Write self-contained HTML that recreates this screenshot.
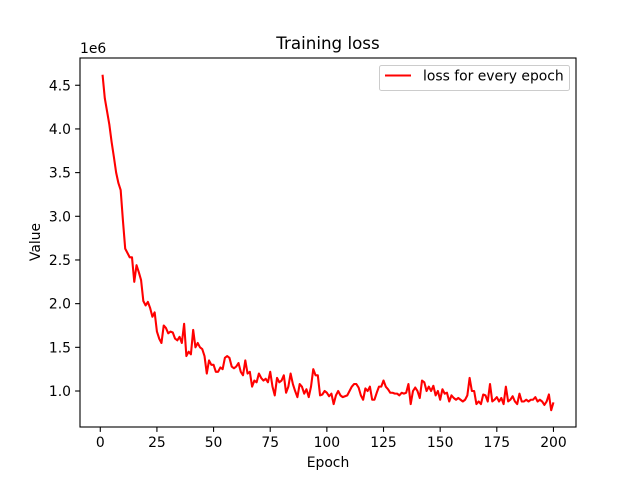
<!DOCTYPE html>
<html><head><meta charset="utf-8"><style>
body{margin:0;background:#fff;}
svg text{font-family:"DejaVu Sans","Liberation Sans",sans-serif;fill:#000;}
</style></head><body>
<svg id="chart" width="640" height="480" xmlns="http://www.w3.org/2000/svg">
<rect width="640" height="480" fill="#fff"/>
<g id="ticks"></g>
<path id="line" fill="none" stroke="#ff0000" stroke-width="2.08" stroke-linejoin="round"/>
<rect x="80" y="58" width="496" height="369" fill="none" stroke="#000" stroke-width="1.1"/>
<text x="328" y="49" font-size="16.7" text-anchor="middle">Training loss</text>
<text x="328" y="467" font-size="13.9" text-anchor="middle">Epoch</text>
<text x="40" y="242" font-size="13.9" text-anchor="middle" transform="rotate(-90 40 242)">Value</text>
<text x="80" y="53" font-size="13.9">1e6</text>
<g>
<rect x="379.5" y="65.5" width="190" height="25" rx="2" fill="#fff" stroke="#ccc" stroke-width="1"/>
<line x1="385" y1="75.5" x2="411" y2="75.5" stroke="#ff0000" stroke-width="2.08"/>
<text x="423" y="80.5" font-size="13.9">loss for every epoch</text>
</g>
</svg>
<script>
const epochs = Array.from({length:200},(_, i)=>i+1);
const lossValues = [4.62,4.35,4.2,4.05,3.85,3.68,3.5,3.38,3.3,2.95,2.63,2.58,2.53,2.53,2.25,2.44,2.36,2.27,2.03,1.98,
2.02,1.95,1.85,1.9,1.68,1.6,1.55,1.75,1.72,1.66,1.68,1.67,1.6,1.58,1.62,1.55,1.77,1.4,1.45,1.42,
1.7,1.5,1.55,1.5,1.48,1.4,1.2,1.35,1.3,1.3,1.22,1.22,1.27,1.25,1.38,1.4,1.38,1.28,1.26,1.28,
1.32,1.22,1.18,1.35,1.2,1.22,1.05,1.12,1.1,1.2,1.15,1.12,1.14,1.1,1.22,1.05,0.95,1.15,1.1,1.12,
1.18,0.98,1.05,1.2,1.08,1.0,0.93,1.08,1.05,0.97,1.02,0.93,1.05,1.25,1.18,1.18,0.95,0.96,1.0,0.98,
0.94,0.97,0.85,0.95,1.0,0.95,0.93,0.94,0.95,1.0,1.05,1.08,1.08,1.04,0.95,0.9,1.03,1.0,1.05,0.9,
0.9,0.98,1.05,1.05,1.12,1.05,1.02,0.98,0.98,0.97,0.97,0.95,0.98,0.97,0.98,1.08,0.85,1.0,1.04,1.0,
0.92,1.12,1.1,1.0,1.05,1.0,1.06,0.95,1.0,0.9,1.02,0.97,0.98,0.88,0.95,0.92,0.9,0.92,0.9,0.88,
0.9,0.95,1.15,1.0,1.0,0.85,0.88,0.85,0.96,0.95,0.88,1.08,0.88,0.9,0.93,0.88,0.92,0.85,1.05,0.88,
0.9,0.94,0.88,0.85,0.97,0.88,0.88,0.9,0.88,0.9,0.9,0.93,0.88,0.9,0.88,0.84,0.88,0.96,0.78,0.87];
const xTicks = [0,25,50,75,100,125,150,175,200];
const yTicks = [1.0,1.5,2.0,2.5,3.0,3.5,4.0,4.5];
const yTickLabels = ["1.0","1.5","2.0","2.5","3.0","3.5","4.0","4.5"];

const L=80,R=576,T=58,B=427;
const xmin=1-0.05*199, xmax=200+0.05*199;
const vmin=Math.min(...lossValues), vmax=Math.max(...lossValues);
const ymin=vmin-0.05*(vmax-vmin), ymax=vmax+0.05*(vmax-vmin);
const sx=v=>L+(v-xmin)/(xmax-xmin)*(R-L);
const sy=v=>B-(v-ymin)/(ymax-ymin)*(B-T);
const NS="http://www.w3.org/2000/svg";
const g=document.getElementById('ticks');
function mk(tag,attrs){const e=document.createElementNS(NS,tag);for(const k in attrs)e.setAttribute(k,attrs[k]);return e;}
xTicks.forEach(t=>{
  const x=sx(t);
  const l=mk('line',{x1:x,x2:x,y1:B,y2:B+4.9,stroke:'#000','stroke-width':1.1});
  
  
  g.appendChild(l);
  const tx=mk('text',{x:x,y:B+20,'font-size':13.9,'text-anchor':'middle'});
  
  
  tx.textContent=t;g.appendChild(tx);
});
yTicks.forEach((t,i)=>{
  const y=sy(t);
  if(y<T||y>B)return;
  const l=mk('line',{x1:L-4.9,x2:L,y1:y,y2:y,stroke:'#000','stroke-width':1.1});
  
  
  g.appendChild(l);
  const tx=mk('text',{x:L-9,y:y+5,'font-size':13.9,'text-anchor':'end'});
  
  
  tx.textContent=yTickLabels[i];g.appendChild(tx);
});
document.getElementById('line').setAttribute('d',lossValues.map((v,i)=>(i?'L':'M')+sx(epochs[i]).toFixed(2)+','+sy(v).toFixed(2)).join(''));
</script>
</body></html>
